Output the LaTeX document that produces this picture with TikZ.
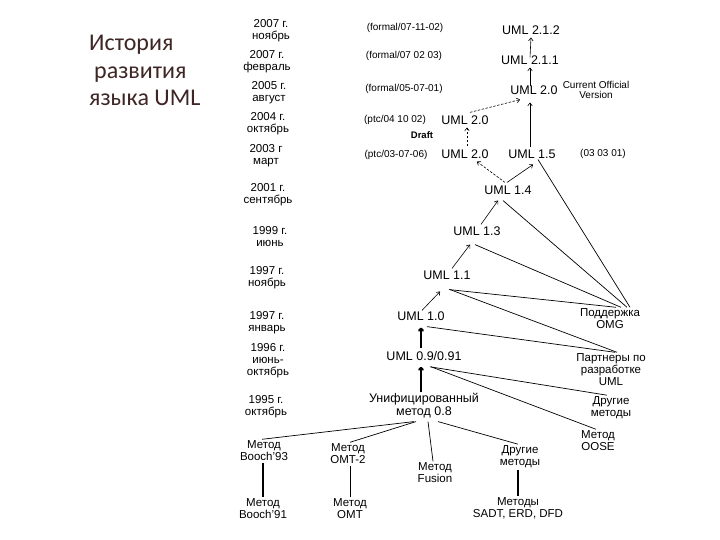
\documentclass[tikz,border=0pt]{standalone}
\usepackage{fontspec}
\setmainfont{Liberation Sans}
\newfontfamily\titlefont{Carlito}
\usetikzlibrary{arrows.meta}
\definecolor{titlecol}{RGB}{62,38,36}
\begin{document}
\begin{tikzpicture}[x=1pt,y=-1pt,
  uml/.style={font=\fontsize{12.5}{14}\selectfont, inner xsep=1.5pt, inner ysep=3pt},
  datelbl/.style={font=\fontsize{11.5}{12}\selectfont, align=center, inner sep=1pt},
  note/.style={font=\fontsize{10}{11}\selectfont, inner sep=1pt, align=center},
  lbl/.style={font=\fontsize{11.5}{12}\selectfont, align=center, inner sep=1.5pt},
  arr/.style={line width=0.6pt, -{To[length=3.5pt,width=5pt]}},
  darr/.style={arr, dash pattern=on 2.5pt off 1.5pt},
  tarr/.style={line width=2pt, -{To[length=4pt,width=6pt]}},
  conn/.style={line width=0.7pt},
  tconn/.style={line width=2pt}]
\useasboundingbox (0,0) rectangle (720,540);
\fill[white] (0,0) rectangle (720,540);

% title
\node[anchor=north west, inner sep=0, align=left, text=titlecol,
  font=\titlefont\fontsize{24}{27.5}\selectfont] (title) at (89,35)
  {История\\\hspace*{5pt}развития\\языка UML};

% dates
\node[datelbl] (d1) at (271,31) {2007 г.\\ноябрь};
\node[datelbl] (d2) at (267,62) {2007 г.\\февраль};
\node[datelbl] (d3) at (269,93) {2005 г.\\август};
\node[datelbl] (d4) at (268,124) {2004 г.\\октябрь};
\node[datelbl] (d5) at (266,156) {2003 г\\март};
\node[datelbl] (d6) at (268,195) {2001 г.\\сентябрь};
\node[datelbl] (d7) at (270,237) {1999 г.\\июнь};
\node[datelbl] (d8) at (267,278) {1997 г.\\ноябрь};
\node[datelbl] (d9) at (267,323) {1997 г.\\январь};
\node[datelbl] (d10) at (268,361) {1996 г.\\июнь-\\октябрь};
\node[datelbl] (d11) at (266,407) {1995 г.\\октябрь};

% notes
\node[note] (n1) at (405,28) {(formal/07-11-02)};
\node[note] (n2) at (404,56) {(formal/07 02 03)};
\node[note] (n3) at (404,89) {(formal/05-07-01)};
\node[note] (n4) at (395,120) {(ptc/04 10 02)};
\node[note, font=\fontsize{9.5}{11}\selectfont\bfseries] (draft) at (422,135) {Draft};
\node[note] (n5) at (396,155) {(ptc/03-07-06)};
\node[note] (n6) at (603,154) {(03 03 01)};
\node[note, font=\fontsize{10}{10.5}\selectfont] (cov) at (596,90) {Current Official\\Version};

% UML versions
\node[uml] (u212) at (531,30) {UML 2.1.2};
\node[uml] (u211) at (530,60) {UML 2.1.1};
\node[uml] (u20) at (534,90) {UML 2.0};
\node[uml] (u20d) at (465,120) {UML 2.0};
\node[uml] (u20m) at (465,154) {UML 2.0};
\node[uml] (u15) at (532,154) {UML 1.5};
\node[uml] (u14) at (508,190) {UML 1.4};
\node[uml] (u13) at (477,231) {UML 1.3};
\node[uml] (u11) at (447,275) {UML 1.1};
\node[uml] (u10) at (421,316) {UML 1.0};
\node[uml] (u09) at (424,356) {UML 0.9/0.91};
\node[uml, align=center, font=\fontsize{12.5}{13}\selectfont] (uni) at (424,406) {Унифицированный\\метод 0.8};

% methods
\node[lbl] (b93) at (264,451) {Метод\\Booch'93};
\node[lbl] (omt2) at (348,454) {Метод\\OMT-2};
\node[lbl] (fus) at (435,473) {Метод\\Fusion};
\node[lbl] (oth1) at (520,457) {Другие\\методы};
\node[lbl] (b91) at (263,509) {Метод\\Booch'91};
\node[lbl] (omt) at (350,509) {Метод\\OMT};
\node[lbl] (sadt) at (518,508) {Методы\\SADT, ERD, DFD};
\node[lbl] (oose) at (598,441) {Метод\\OOSE};
\node[lbl] (oth2) at (611,408) {Другие\\методы};
\node[lbl] (part) at (611,370) {Партнеры по\\разработке\\UML};
\node[lbl] (omg) at (610,319) {Поддержка\\OMG};

% arrows upward
\draw[arr] ([yshift=-5pt]u211.north) -- (u212.south);
\draw[arr] ([xshift=-4pt,yshift=-4pt]u20.north) -- (u211.south);
\draw[arr] ([xshift=-2pt,yshift=-1pt]u15.north) -- ([xshift=-4pt,yshift=-5pt]u20.south);
\draw[darr] ([xshift=5pt]u20d.north) -- ([xshift=-14pt,yshift=-2pt]u20.south);
\draw[darr] ([xshift=2pt]u20m.north) -- ([xshift=2pt]u20d.south);
\draw[darr] ([xshift=-3pt]u14.north) -- ([xshift=12pt]u20m.south);
\draw[arr] ([xshift=-1pt]u14.north) -- ([xshift=1pt,yshift=-3pt]u15.south);
\draw[arr] ([xshift=4pt,yshift=-1pt]u13.north) -- ([xshift=-10pt,yshift=-3pt]u14.south);
\draw[arr] ([xshift=5pt,yshift=-1pt]u11.north) -- ([xshift=-7pt,yshift=-6pt]u13.south);
\draw[arr] ([xshift=1pt,yshift=-2pt]u10.north) -- ([xshift=-7pt,yshift=-9pt]u11.south);
\draw[tarr] (u09.north -| u10) -- ([yshift=-4pt]u10.south);
\draw[tarr] ([yshift=-2pt]uni.north -| u10) -- ([yshift=-3pt]u09.south -| u10);

% lines to OMG
\draw[conn] ([xshift=6pt,yshift=2pt]u15.south) -- ([xshift=20pt]omg.north);
\draw[conn] ([xshift=-5pt,yshift=-3pt]u14.south) -- ([xshift=17pt]omg.north);
\draw[conn] ([xshift=-2pt,yshift=-6pt]u13.south) -- ([xshift=11pt]omg.north);
\draw[conn] ([xshift=2pt,yshift=-7pt]u11.south) -- ([xshift=6pt]omg.north);
% lines to partners
\draw[conn] ([xshift=3pt,yshift=-7pt]u11.south) -- ([xshift=6pt]part.north);
\draw[conn] ([xshift=6pt,yshift=-3pt]u10.south) -- ([xshift=4pt]part.north);
% lines from 0.9
\draw[conn] ([xshift=6pt,yshift=-3pt]u09.south) -- ([xshift=-4pt]oth2.north);
\draw[conn] ([xshift=7pt,yshift=-3pt]u09.south) -- ([xshift=-2pt]oose.north);
% lines from unified
\draw[conn] ([xshift=-10pt]uni.south) -- ([xshift=-2pt]b93.north);
\draw[conn] ([xshift=-8pt]uni.south) -- ([xshift=2pt]omt2.north);
\draw[conn] ([xshift=4pt]uni.south) -- ([xshift=-2pt]fus.north);
\draw[conn] ([xshift=14pt]uni.south) -- ([xshift=-2pt]oth1.north);
% vertical lines below
\draw[tconn] ([xshift=-1pt]b93.south) -- (b91.north);
\draw[conn] (omt2.south -| omt) -- (omt.north);
\draw[tconn] ([xshift=-2pt]oth1.south) -- (sadt.north);
\end{tikzpicture}
\end{document}
